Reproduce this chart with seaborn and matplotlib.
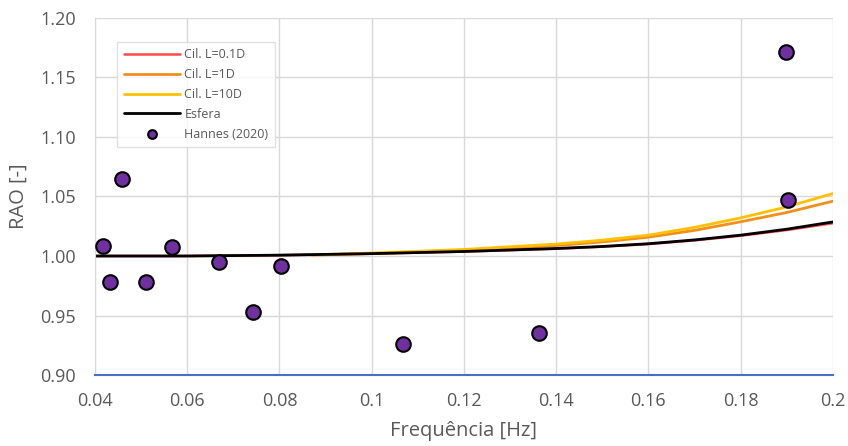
import numpy as np
import pandas as pd
import matplotlib
matplotlib.use("Agg")
import matplotlib.pyplot as plt
import seaborn as sns

# curves
freq_esfera = [0.04, 0.06, 0.08, 0.10, 0.12, 0.14, 0.15, 0.16, 0.17, 0.18, 0.19, 0.20]
rao_esfera = [1.000, 1.000, 1.0007, 1.0020, 1.0038, 1.0063, 1.0080, 1.0103, 1.0135, 1.0175, 1.0225, 1.0286]
rao_cil01 = [1.000, 1.000, 1.0007, 1.0020, 1.0037, 1.0061, 1.0078, 1.0100, 1.0131, 1.0170, 1.0218, 1.0275]

freq_cil = [0.087, 0.10, 0.12, 0.14, 0.15, 0.16, 0.17, 0.18, 0.19, 0.20]
rao_cil1 = [1.0008, 1.0020, 1.0045, 1.0088, 1.0118, 1.0158, 1.0215, 1.0287, 1.0365, 1.0460]
rao_cil10 = [1.0010, 1.0025, 1.0055, 1.0100, 1.0133, 1.0175, 1.0240, 1.0320, 1.0412, 1.0524]

# experimental points
freq_hannes = [0.0417, 0.0433, 0.0458, 0.0511, 0.0568, 0.0669, 0.0743, 0.0803, 0.1067, 0.1363, 0.1898, 0.1902]
rao_hannes = [1.0082, 0.9785, 1.0647, 0.9785, 1.0073, 0.9952, 0.9532, 0.9916, 0.9260, 0.9356, 1.1714, 1.0474]

sns.set_style("white")
plt.rcParams['font.family'] = ['Open Sans', 'DejaVu Sans']

fig = plt.figure(figsize=(8.48, 4.46), dpi=100)
ax = fig.add_axes([0.112, 0.159, 0.870, 0.801])

sns.lineplot(x=freq_esfera, y=rao_cil01, color="#FF4B4B", lw=1.8, label="Cil. L=0.1D", ax=ax)
sns.lineplot(x=freq_cil, y=rao_cil1, color="#F28E1C", lw=2.0, label="Cil. L=1D", ax=ax)
sns.lineplot(x=freq_cil, y=rao_cil10, color="#FFC000", lw=2.0, label="Cil. L=10D", ax=ax)
sns.lineplot(x=freq_esfera, y=rao_esfera, color="black", lw=2.0, label="Esfera", ax=ax)
sns.scatterplot(x=freq_hannes, y=rao_hannes, color="#7030A0", edgecolor="black",
                linewidth=1.5, s=110, label="Hannes (2020)", ax=ax, zorder=5)

ax.set_xlim(0.04, 0.2)
ax.set_ylim(0.90, 1.20)
ax.set_xticks(np.arange(0.04, 0.201, 0.02))
ax.set_xticklabels(["0.04", "0.06", "0.08", "0.1", "0.12", "0.14", "0.16", "0.18", "0.2"])
ax.set_yticks(np.arange(0.90, 1.201, 0.05))
ax.set_yticklabels([f"{v:.2f}" for v in np.arange(0.90, 1.201, 0.05)])
ax.grid(True, color="#D9D9D9", lw=1.0)
ax.set_axisbelow(True)
ax.tick_params(length=0, labelsize=13, colors="#595959")
ax.tick_params(axis="y", pad=14)
ax.tick_params(axis="x", pad=12)

for s in ["top", "right"]:
    ax.spines[s].set_visible(False)
ax.spines["left"].set_color("#D9D9D9")
ax.spines["bottom"].set_color("#4472C4")
ax.spines["bottom"].set_linewidth(1.5)

ax.set_xlabel("Frequência [Hz]", fontsize=14.5, color="#595959", labelpad=8)
ax.set_ylabel("RAO [-]", fontsize=14.5, color="#595959", labelpad=8)

leg = ax.legend(loc="upper left", bbox_to_anchor=(0.022, 0.95), fontsize=9,
                frameon=True, fancybox=False, handlelength=4.5, labelspacing=0.55,
                borderpad=0.5, handletextpad=0.35, markerscale=0.6)
leg.get_frame().set_edgecolor("#D9D9D9")
leg.get_frame().set_linewidth(1.0)
for t in leg.get_texts():
    t.set_color("#595959")

fig.savefig("out.png", dpi=100)
